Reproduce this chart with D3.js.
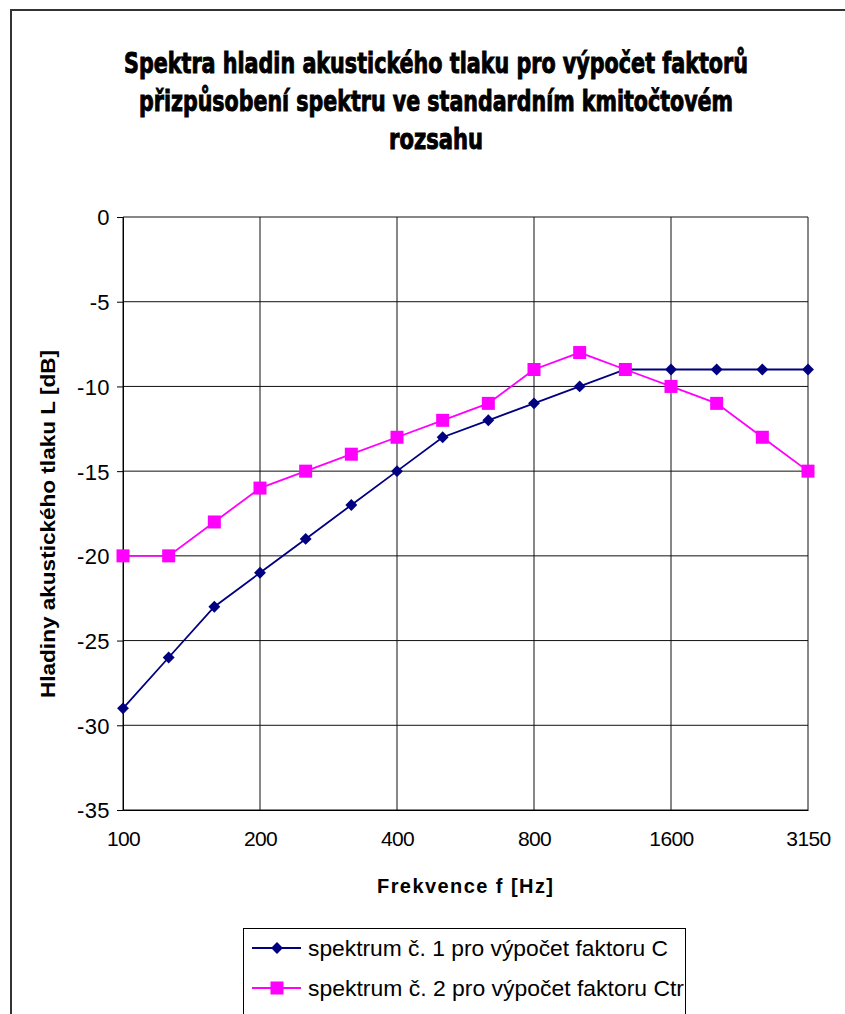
<!DOCTYPE html>
<html>
<head>
<meta charset="utf-8">
<script src="https://cdn.jsdelivr.net/npm/d3@7"></script>
<style>
  html, body { margin: 0; padding: 0; background: #fff; }
  svg { display: block; }
</style>
</head>
<body>
<svg id="graf" width="845" height="1014"></svg>
<script>
// kmitočty třetinooktávových pásem
var frekvence = ["100", "125", "160", "200", "250", "315", "400", "500", "630", "800", "1000", "1250", "1600", "2000", "2500", "3150"];
var popisky = ["100", "200", "400", "800", "1600", "3150"];
var spektrum1 = [-29, -26, -23, -21, -19, -17, -15, -13, -12, -11, -10, -9, -9, -9, -9, -9];
var spektrum2 = [-20, -20, -18, -16, -15, -14, -13, -12, -11, -9, -8, -9, -10, -11, -13, -15];
var yTicks = [0, -5, -10, -15, -20, -25, -30, -35];
var nazvy = ["spektrum č. 1 pro výpočet faktoru C", "spektrum č. 2 pro výpočet faktoru Ctr"];

var svg = d3.select("#graf");

// ramecek celeho grafu
svg.append("rect")
    .attr("x", 11).attr("y", 10)
    .attr("width", 900).attr("height", 1100)
    .attr("fill", "none")
    .attr("stroke", "#333").attr("stroke-width", 2);

// nadpis
var titul = ["Spektra hladin akustického tlaku pro výpočet faktorů",
             "přizpůsobení spektru ve standardním kmitočtovém",
             "rozsahu"];
var sirky = [624, 594, 94];
svg.append("g").selectAll("text")
    .data(titul)
    .enter().append("text")
    .attr("x", 436)
    .attr("y", (d, i) => 73 + i * 38)
    .attr("text-anchor", "middle")
    .attr("font-family", "'DejaVu Sans Condensed', 'Liberation Sans', sans-serif")
    .attr("font-weight", "bold")
    .attr("font-size", 28)
    .attr("textLength", (d, i) => sirky[i])
    .attr("lengthAdjust", "spacingAndGlyphs")
    .attr("fill", "#000")
    .attr("stroke", "#000").attr("stroke-width", 0.9)
    .text(d => d);

var x = d3.scalePoint().domain(frekvence).range([123, 808]);
var y = d3.scaleLinear().domain([-35, 0]).range([810, 217]);

// mrizka
var mrizka = svg.append("g");
mrizka.selectAll("line.h")
    .data(yTicks)
    .enter().append("line")
    .attr("x1", 123).attr("x2", 808)
    .attr("y1", d => y(d)).attr("y2", d => y(d))
    .attr("stroke", "#111").attr("stroke-width", 1);
mrizka.selectAll("line.v")
    .data(popisky)
    .enter().append("line")
    .attr("x1", d => x(d)).attr("x2", d => x(d))
    .attr("y1", 217).attr("y2", 810)
    .attr("stroke", "#111").attr("stroke-width", 1);

// osa y
var osaY = d3.axisLeft(y).tickValues(yTicks).tickSize(6).tickFormat(d3.format("d"));
var gy = svg.append("g").attr("transform", "translate(123,0)").call(osaY);
gy.select(".domain").attr("stroke", "#000");
gy.selectAll(".tick line").attr("stroke", "#000");
gy.selectAll(".tick text")
    .attr("x", -13)
    .attr("dy", "0.36em")
    .attr("font-family", "'Liberation Sans', Arial, sans-serif")
    .attr("font-size", 22)
    .attr("letter-spacing", 0.4)
    .attr("fill", "#000")
    .text(d => d === 0 ? "0" : "-" + Math.abs(d));

// osa x
var osaX = d3.axisBottom(x).tickValues(popisky).tickSize(0);
var gx = svg.append("g").attr("transform", "translate(0,810)").call(osaX);
gx.select(".domain").attr("stroke", "#000");
gx.selectAll(".tick text")
    .attr("y", 28)
    .attr("dy", "0.36em")
    .attr("font-family", "'Liberation Sans', Arial, sans-serif")
    .attr("font-size", 21)
    .attr("letter-spacing", -0.6)
    .attr("fill", "#000");

// nazvy os
svg.append("text")
    .attr("x", 465).attr("y", 893)
    .attr("text-anchor", "middle")
    .attr("font-family", "'Liberation Sans', Arial, sans-serif")
    .attr("font-weight", "bold")
    .attr("font-size", 20)
    .attr("textLength", 176)
    .attr("lengthAdjust", "spacing")
    .text("Frekvence f [Hz]");
svg.append("text")
    .attr("transform", "translate(55,524) rotate(-90)")
    .attr("text-anchor", "middle")
    .attr("font-family", "'Liberation Sans', Arial, sans-serif")
    .attr("font-weight", "bold")
    .attr("font-size", 20)
    .attr("textLength", 348)
    .attr("lengthAdjust", "spacingAndGlyphs")
    .text("Hladiny akustického tlaku L [dB]");

// krivky
var cara = d3.line().x((d, i) => x(frekvence[i])).y(d => y(d));

svg.append("path")
    .datum(spektrum1)
    .attr("d", cara)
    .attr("fill", "none")
    .attr("stroke", "#000080").attr("stroke-width", 1.8);
svg.append("path")
    .datum(spektrum2)
    .attr("d", cara)
    .attr("fill", "none")
    .attr("stroke", "#ff00ff").attr("stroke-width", 1.8);

var kosoctverec = d3.symbol().type(d3.symbolDiamond2).size(90);
svg.append("g").selectAll("path")
    .data(spektrum1)
    .enter().append("path")
    .attr("d", kosoctverec)
    .attr("transform", (d, i) => "translate(" + x(frekvence[i]) + "," + y(d) + ")")
    .attr("fill", "#000080");
svg.append("g").selectAll("rect")
    .data(spektrum2)
    .enter().append("rect")
    .attr("x", (d, i) => x(frekvence[i]) - 6.5)
    .attr("y", d => y(d) - 6.5)
    .attr("width", 13).attr("height", 13)
    .attr("fill", "#ff00ff");

// legenda
var leg = svg.append("g");
leg.append("rect")
    .attr("x", 243.5).attr("y", 928.5)
    .attr("width", 442).attr("height", 90)
    .attr("fill", "#fff").attr("stroke", "#000");
var barvy = ["#000080", "#ff00ff"];
nazvy.forEach(function (n, i) {
    var ly = 948 + i * 40;
    leg.append("line")
        .attr("x1", 252).attr("x2", 301)
        .attr("y1", ly).attr("y2", ly)
        .attr("stroke", barvy[i]).attr("stroke-width", 1.8);
    if (i === 0) {
        leg.append("path")
            .attr("d", kosoctverec)
            .attr("transform", "translate(277," + ly + ")")
            .attr("fill", barvy[i]);
    } else {
        leg.append("rect")
            .attr("x", 270.5).attr("y", ly - 6.5)
            .attr("width", 13).attr("height", 13)
            .attr("fill", barvy[i]);
    }
    leg.append("text")
        .attr("x", 308).attr("y", ly)
        .attr("dy", "0.36em")
        .attr("font-family", "'Liberation Sans', Arial, sans-serif")
        .attr("font-size", 22)
        .attr("textLength", i === 0 ? 360 : 376)
        .attr("lengthAdjust", "spacingAndGlyphs")
        .text(n);
});
</script>
</body>
</html>
